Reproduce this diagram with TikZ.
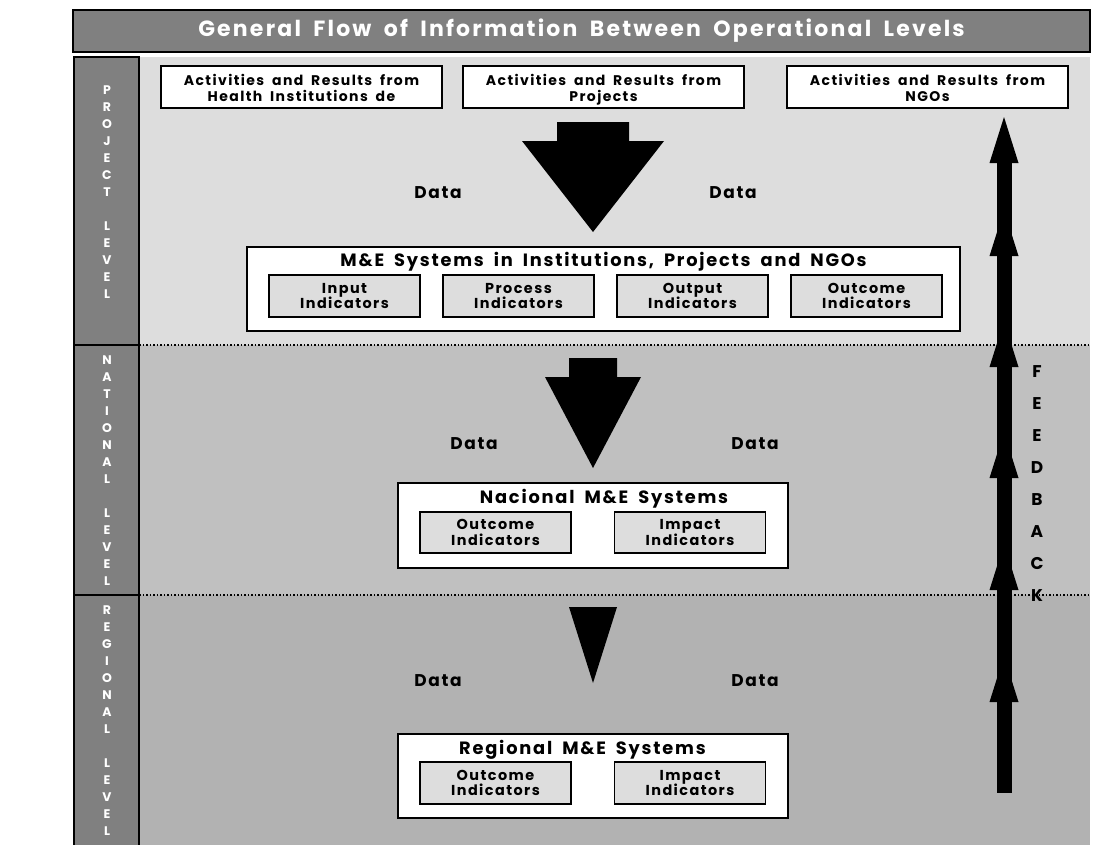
\documentclass[tikz,border=0pt]{standalone}
\usepackage{fontspec}
\setmainfont{Poppins}[LetterSpace=10,WordSpace=1.8]
\usetikzlibrary{positioning}
\definecolor{bargray}{RGB}{128,128,128}
\definecolor{projgray}{RGB}{221,221,221}
\definecolor{natgray}{RGB}{192,192,192}
\definecolor{reggray}{RGB}{178,178,178}

\begin{document}
\begin{tikzpicture}[x=1pt,y=-1pt,line join=miter,
    srcbox/.style={draw=black,line width=1.5pt,fill=white,minimum width=281pt,minimum height=42pt,
      align=center,inner sep=0pt,font=\bfseries\fontsize{14}{16}\selectfont},
    sysbox/.style={draw=black,line width=1.5pt,fill=white,inner sep=0pt},
    systitle/.style={inner sep=0pt,font=\bfseries\fontsize{17.8}{20}\selectfont},
    indbox/.style={draw=black,line width=1.5pt,fill=projgray,minimum width=151pt,minimum height=42pt,
      align=center,inner sep=0pt,font=\bfseries\fontsize{14.4}{15.5}\selectfont},
    datalbl/.style={inner sep=0pt,font=\bfseries\fontsize{17}{18}\selectfont},
    lvllbl/.style={text=white,align=center,inner sep=0pt,font=\bfseries\fontsize{12.5}{17}\selectfont},
    fblbl/.style={align=center,inner sep=0pt,font=\bfseries\fontsize{17}{31.9}\selectfont}]

    \useasboundingbox (0,0) rectangle (1101,844);

    % level bands
    \fill[projgray] (139,57) rectangle (1090,345);
    \fill[natgray]  (139,345) rectangle (1090,595);
    \fill[reggray]  (139,595) rectangle (1090,850);
    \draw[line width=1.5pt,dotted] (139,345) -- (1090,345);
    \draw[line width=1.5pt,dotted] (139,595) -- (1090,595);

    % level column
    \draw[line width=2pt,fill=bargray] (74,57) rectangle (139,850);
    \draw[line width=2pt] (74,345) -- (139,345);
    \draw[line width=2pt] (74,595) -- (139,595);
    \node[lvllbl] (projlvl) at (107,192) {P\\R\\O\\J\\E\\C\\T\\[17pt]L\\E\\V\\E\\L};
    \node[lvllbl] (natlvl) at (107,470.5) {N\\A\\T\\I\\O\\N\\A\\L\\[17pt]L\\E\\V\\E\\L};
    \node[lvllbl] (reglvl) at (107,721) {R\\E\\G\\I\\O\\N\\A\\L\\[17pt]L\\E\\V\\E\\L};

    % title
    \node[draw=black,line width=1.5pt,fill=bargray,minimum width=1017pt,minimum height=42pt,inner sep=0pt,
      text=white,font=\bfseries\fontsize{22}{24}\selectfont] (title) at (581.5,31)
      {General Flow of Information Between Operational Levels};

    % project level
    \node[srcbox] (srcinst) at (301.5,87) {\rule{0pt}{18pt}Activities and Results from\\Health Institutions de\strut};
    \node[srcbox] (srcproj) at (603.5,87) {\rule{0pt}{18pt}Activities and Results from\\Projects\strut};
    \node[srcbox] (srcngo)  at (927.5,87) {\rule{0pt}{18pt}Activities and Results from\\NGOs\strut};

    \fill (557,122) -- (629,122) -- (629,141) -- (664,141) -- (593,232) -- (522,141) -- (557,141) -- cycle;
    \node[datalbl] (datapl) at (438,193) {Data};
    \node[datalbl] (datapr) at (733,193) {Data};

    \node[sysbox,minimum width=713pt,minimum height=84pt] (mesys) at (603.5,289) {};
    \node[systitle] (mestitle) at (603.5,262) {M\&E Systems in Institutions, Projects and NGOs};
    \node[indbox] (input) at (344.5,296) {Input\\Indicators};
    \node[indbox,right=21.5pt of input] (process) {Process\\Indicators};
    \node[indbox,right=21.5pt of process] (output) {Output\\Indicators};
    \node[indbox,right=21.5pt of output] (outcome) {Outcome\\Indicators};

    % national level
    \fill (569,358) -- (617,358) -- (617,377) -- (641,377) -- (593,468) -- (545,377) -- (569,377) -- cycle;
    \node[datalbl] (datanl) at (474,444) {Data};
    \node[datalbl] (datanr) at (755,444) {Data};

    \node[sysbox,minimum width=390pt,minimum height=85pt] (natsys) at (593,525.5) {};
    \node[systitle] (nattitle) at (604,499) {Nacional M\&E Systems};
    \node[indbox,minimum height=41pt] (natoutcome) at (495.5,532.5) {Outcome\\Indicators};
    \node[indbox,minimum height=41pt] (natimpact) at (690,532.5) {Impact\\Indicators};

    % regional level
    \fill (569,607) -- (617,607) -- (593,683) -- cycle;
    \node[datalbl] (datarl) at (438,681) {Data};
    \node[datalbl] (datarr) at (755,681) {Data};

    \node[sysbox,minimum width=390pt,minimum height=84pt] (regsys) at (593,776) {};
    \node[systitle] (regtitle) at (582.5,750) {Regional M\&E Systems};
    \node[indbox] (regoutcome) at (495.5,783) {Outcome\\Indicators};
    \node[indbox] (regimpact) at (690,783) {Impact\\Indicators};

    % feedback
    \fill (996.5,793) rectangle (1011.5,150);
    \foreach \yb in {163,256,367,478,590,702}
      \fill (989.5,\yb) -- (1004,\yb-46) -- (1018.5,\yb) -- cycle;
    \node[fblbl] (feedback) at (1037,483.5) {F\\E\\E\\D\\B\\A\\C\\K};
\end{tikzpicture}
\end{document}
